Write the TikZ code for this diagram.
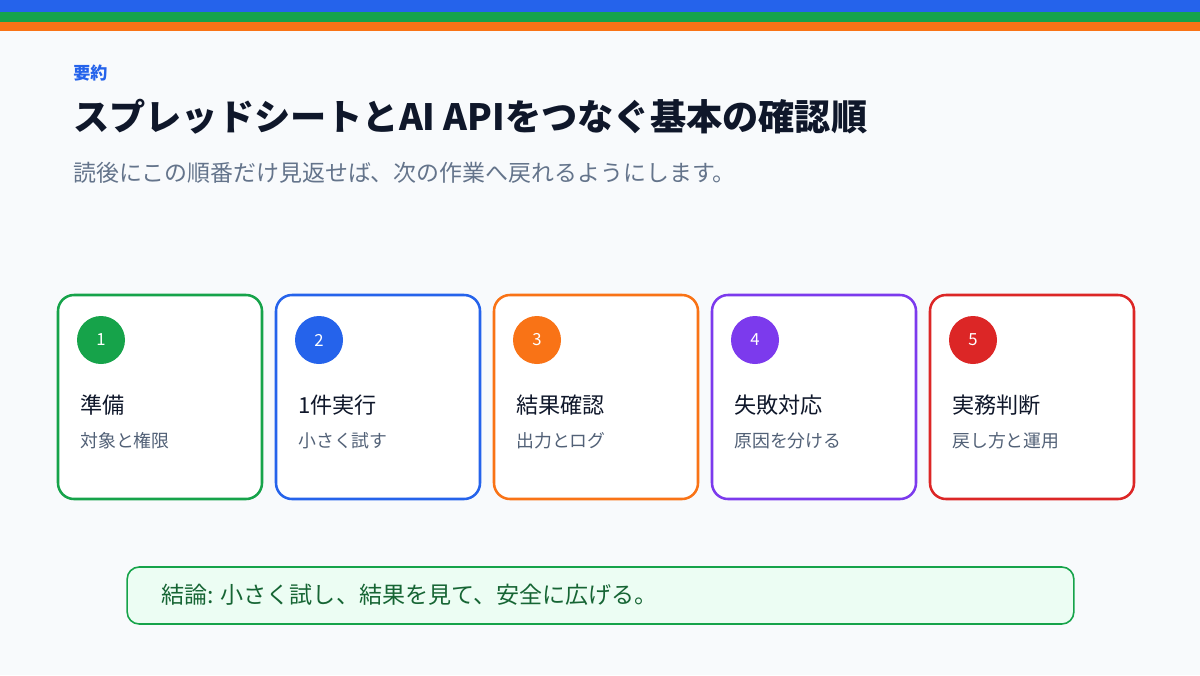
\documentclass[tikz,border=0pt]{standalone}
\usepackage{fontspec}
\setmainfont{Noto Sans CJK JP}
\definecolor{bg}{HTML}{F8FAFC}
\definecolor{cblue}{HTML}{2563EB}
\definecolor{cgreen}{HTML}{16A34A}
\definecolor{corange}{HTML}{F97316}
\definecolor{cpurple}{HTML}{7C3AED}
\definecolor{cred}{HTML}{DC2626}
\definecolor{ink}{HTML}{0F172A}
\definecolor{muted}{HTML}{526177}
\definecolor{soft}{HTML}{64748B}
\definecolor{mint}{HTML}{ECFDF3}
\definecolor{dgreen}{HTML}{166534}
\tikzset{
  px/.style={x=0.75pt,y=-0.75pt},
  card/.style={draw=#1, fill=white, line width=1.9pt, rounded corners=12pt,
    minimum width=153pt, minimum height=153pt, inner sep=0pt},
  badge/.style={circle, fill=#1, minimum size=36pt, inner sep=0pt,
    text=white, font=\fontsize{12.5}{13}\selectfont},
  ctitle/.style={anchor=west, inner sep=0pt, text=ink, font=\fontsize{16.6}{18}\selectfont},
  csub/.style={anchor=west, inner sep=0pt, text=muted, font=\fontsize{13.4}{15}\selectfont},
}
\begin{document}
\begin{tikzpicture}[px]
\useasboundingbox (0,0) rectangle (1200,675);
\fill[bg] (0,0) rectangle (1200,675);
\fill[cblue] (0,0) rectangle (1200,12);
\fill[cgreen] (0,12) rectangle (1200,22);
\fill[corange] (0,22) rectangle (1200,31);

\node[anchor=west, inner sep=0pt, text=cblue, font=\fontsize{12.8}{14}\selectfont\bfseries] (kicker) at (73,73) {要約};
\node[anchor=west, inner sep=0pt, text=ink, font=\fontsize{27.15}{30}\selectfont\bfseries] (title) at (73,117) {スプレッドシートとAI APIをつなぐ基本の確認順};
\node[anchor=west, inner sep=0pt, text=soft, font=\fontsize{17.2}{20}\selectfont] (lead) at (73,173) {読後にこの順番だけ見返せば、次の作業へ戻れるようにします。};

\foreach \i/\col/\num/\ttl/\sub in {
  0/cgreen/1/準備/対象と権限,
  1/cblue/2/1件実行/小さく試す,
  2/corange/3/結果確認/出力とログ,
  3/cpurple/4/失敗対応/原因を分ける,
  4/cred/5/実務判断/戻し方と運用}{
  \node[card=\col] (card\num) at ({160+218*\i},397) {};
  \node[badge=\col] (badge\num) at ({101+218*\i},340) {\num};
  \node[ctitle] (title\num) at ({80+218*\i},405) {\ttl};
  \node[csub] (sub\num) at ({80+218*\i},441) {\sub};
}

\node[draw=cgreen, fill=mint, line width=1.2pt, rounded corners=9pt,
  minimum width=710pt, minimum height=42.75pt, inner sep=0pt] (concl) at (600.5,595.5) {};
\node[anchor=west, inner sep=0pt, text=dgreen, font=\fontsize{17.3}{19}\selectfont] (conclt) at (161,595) {結論: 小さく試し、結果を見て、安全に広げる。};
\end{tikzpicture}
\end{document}
